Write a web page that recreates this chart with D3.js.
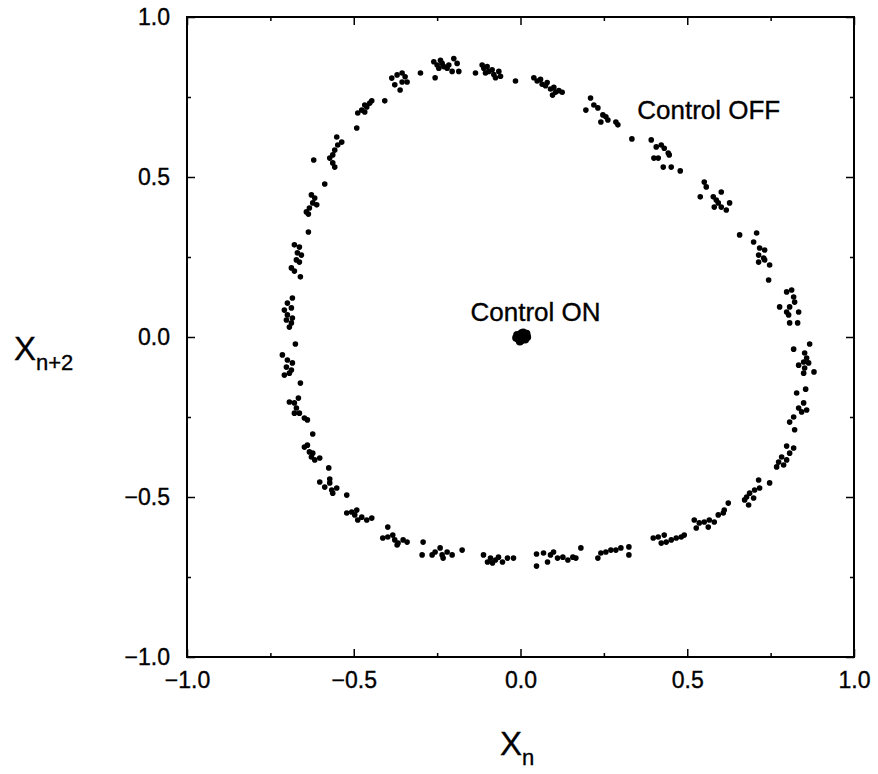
<!DOCTYPE html>
<html>
<head>
<meta charset="utf-8">
<script src="https://cdn.jsdelivr.net/npm/d3@7"></script>
<style>
  body { margin: 0; background: #fff; }
  text { font-family: "Liberation Sans", Arial, Helvetica, sans-serif; fill: #000; stroke: #000; stroke-width: 0.35px; }
</style>
</head>
<body>
<svg width="878" height="774"></svg>
<script>
// return map x(n) -> x(n+2), control off (ring) and control on (fixed point)
var controlOff = [
  [-0.386,0.809],[-0.37,0.819],[-0.355,0.825],[-0.346,0.813],[-0.34,0.797],[-0.355,0.797],[-0.377,0.788],[-0.361,0.772],
  [-0.30,0.825],
  [-0.26,0.86],[-0.25,0.85],[-0.245,0.84],[-0.235,0.855],[-0.23,0.845],[-0.22,0.84],[-0.215,0.85],[-0.205,0.83],[-0.19,0.855],[-0.185,0.83],[-0.24,0.865],[-0.256,0.81],[-0.20,0.87],
  [-0.135,0.825],
  [-0.115,0.85],[-0.11,0.84],[-0.1,0.845],[-0.095,0.83],[-0.085,0.835],[-0.08,0.82],[-0.075,0.81],[-0.065,0.83],[-0.06,0.815],[-0.105,0.825],
  [-0.015,0.80],
  [0.04,0.81],[0.05,0.80],[0.06,0.805],[0.065,0.79],[0.075,0.785],[0.08,0.795],[0.09,0.775],[0.10,0.78],[0.105,0.765],[0.115,0.77],[0.125,0.765],[0.096,0.756],
  [0.196,0.709],[0.21,0.747],[0.232,0.716],[0.247,0.694],[0.262,0.678],[0.241,0.672],[0.286,0.672],[0.292,0.663],[0.22,0.725],[0.256,0.688],
  [0.334,0.619],
  [0.392,0.616],[0.407,0.594],[0.422,0.60],[0.431,0.59],[0.443,0.575],[0.413,0.559],[0.40,0.559],[0.428,0.531],[0.452,0.531],[0.479,0.519],[0.446,0.569],
  [0.551,0.484],[0.557,0.469],[0.539,0.438],[0.578,0.438],[0.587,0.428],[0.602,0.453],[0.581,0.406],[0.602,0.406],[0.617,0.397],[0.627,0.419],[0.593,0.419],
  [0.657,0.319],[0.708,0.325],[0.699,0.297],[0.717,0.278],[0.732,0.272],[0.714,0.256],[0.729,0.247],[0.714,0.234],[0.732,0.241],[0.747,0.225],[0.744,0.178],
  [0.798,0.141],[0.813,0.147],[0.819,0.125],[0.822,0.109],[0.807,0.094],[0.777,0.094],[0.798,0.078],[0.834,0.078],[0.804,0.069],[0.807,0.044],[0.831,0.044],
  [0.819,-0.038],[0.867,-0.022],[0.852,-0.05],[0.858,-0.066],[0.849,-0.078],[0.864,-0.081],[0.834,-0.088],[0.852,-0.097],[0.88,-0.109],[0.849,-0.113],
  [0.828,-0.175],[0.855,-0.163],[0.849,-0.206],[0.858,-0.228],[0.843,-0.234],[0.834,-0.222],[0.819,-0.25],[0.807,-0.266],[0.822,-0.29],
  [0.798,-0.341],[0.819,-0.347],[0.807,-0.363],[0.783,-0.375],[0.798,-0.384],[0.774,-0.391],[0.768,-0.406],[0.789,-0.4],
  [0.747,-0.456],[0.714,-0.447],[0.702,-0.478],[0.687,-0.488],[0.678,-0.5],[0.672,-0.509],[0.684,-0.525],[0.699,-0.503],[0.717,-0.472],
  [0.521,-0.572],[0.536,-0.581],[0.551,-0.578],[0.566,-0.572],[0.581,-0.578],[0.593,-0.556],[0.608,-0.55],[0.623,-0.519],[0.611,-0.541],[0.563,-0.594],[0.527,-0.597],
  [0.398,-0.628],[0.413,-0.625],[0.422,-0.644],[0.437,-0.641],[0.452,-0.634],[0.467,-0.628],[0.482,-0.625],[0.491,-0.619],[0.431,-0.619],
  [0.232,-0.691],[0.241,-0.675],[0.256,-0.672],[0.271,-0.666],[0.286,-0.666],[0.301,-0.659],[0.325,-0.656],[0.325,-0.681],
  [0.181,-0.659],
  [0.069,-0.675],[0.09,-0.681],[0.111,-0.691],[0.127,-0.688],[0.142,-0.697],[0.157,-0.688],[0.166,-0.691],[0.099,-0.672],[0.081,-0.703],[0.048,-0.678],[0.048,-0.716],
  [-0.111,-0.681],[-0.099,-0.703],[-0.084,-0.706],[-0.075,-0.697],[-0.066,-0.688],[-0.054,-0.703],[-0.039,-0.691],[-0.021,-0.691],[-0.09,-0.691],
  [-0.175,-0.666],
  [-0.265,-0.681],[-0.256,-0.672],[-0.241,-0.659],[-0.235,-0.681],[-0.232,-0.691],[-0.22,-0.672],[-0.205,-0.681],[-0.295,-0.681],[-0.292,-0.641],
  [-0.413,-0.628],[-0.398,-0.625],[-0.383,-0.619],[-0.377,-0.634],[-0.367,-0.644],[-0.352,-0.634],[-0.34,-0.641],[-0.37,-0.65],[-0.398,-0.594],
  [-0.521,-0.55],[-0.506,-0.547],[-0.497,-0.556],[-0.488,-0.572],[-0.476,-0.563],[-0.461,-0.572],[-0.446,-0.566],[-0.491,-0.541],[-0.521,-0.494],
  [-0.602,-0.453],[-0.587,-0.469],[-0.572,-0.456],[-0.566,-0.478],[-0.551,-0.472],[-0.563,-0.488],[-0.572,-0.444],[-0.575,-0.409],
  [-0.648,-0.344],[-0.639,-0.338],[-0.633,-0.359],[-0.627,-0.375],[-0.617,-0.384],[-0.602,-0.378],[-0.623,-0.363],[-0.623,-0.303],
  [-0.693,-0.203],[-0.678,-0.206],[-0.666,-0.191],[-0.672,-0.222],[-0.663,-0.238],[-0.648,-0.253],[-0.639,-0.259],[-0.678,-0.238],[-0.66,-0.144],
  [-0.714,-0.056],[-0.699,-0.072],[-0.684,-0.081],[-0.702,-0.094],[-0.687,-0.103],[-0.708,-0.119],[-0.693,-0.113],[-0.675,-0.022],
  [-0.684,0.122],[-0.699,0.106],[-0.687,0.091],[-0.708,0.084],[-0.699,0.069],[-0.702,0.053],[-0.687,0.044],[-0.693,0.031],[-0.684,0.059],
  [-0.678,0.288],[-0.663,0.281],[-0.669,0.263],[-0.657,0.256],[-0.672,0.241],[-0.663,0.234],[-0.687,0.216],[-0.678,0.206],[-0.66,0.188],[-0.636,0.328],
  [-0.627,0.444],[-0.617,0.434],[-0.623,0.419],[-0.611,0.413],[-0.633,0.403],[-0.642,0.391],[-0.636,0.384],[-0.587,0.478],
  [-0.551,0.625],[-0.536,0.609],[-0.548,0.6],[-0.557,0.584],[-0.563,0.569],[-0.572,0.559],[-0.563,0.544],[-0.557,0.531],[-0.62,0.553],
  [-0.488,0.7],[-0.476,0.709],[-0.467,0.703],[-0.461,0.719],[-0.452,0.731],[-0.467,0.725],[-0.446,0.738],[-0.491,0.653],[-0.407,0.738]
];

var controlOn = [
  [0.003,0.0],[0.012,0.006],[-0.006,-0.006],[0.008,0.014],[-0.002,-0.014],[0.018,0.01],[-0.01,0.006],[0.014,-0.008],
  [0.003,0.012],[0.001,-0.011],[0.02,0.0],[-0.013,-0.002]
];

var majorTicks = [-1, -0.5, 0, 0.5, 1];
var minorTicks = [-0.75, -0.25, 0.25, 0.75];
var tickLabels = ['\u22121.0', '\u22120.5', '0.0', '0.5', '1.0'];

var svg = d3.select('svg'),
  margin = { top: 17, right: 24, bottom: 117, left: 187 },
  width = +svg.attr('width') - margin.left - margin.right,
  height = +svg.attr('height') - margin.top - margin.bottom;

var g = svg.append('g').attr('transform', 'translate(' + margin.left + ',' + margin.top + ')');

var x = d3.scaleLinear().domain([-1, 1]).range([0, width]);
var y = d3.scaleLinear().domain([-1, 1]).range([height, 0]);

var fmt = function (d) { return tickLabels[majorTicks.indexOf(d)]; };

function styleAxis(sel) {
  sel.select('.domain').remove();
  sel.selectAll('line').attr('stroke', '#000').attr('stroke-width', 1.5);
  sel.selectAll('text').style('font-size', '23px').attr('fill', '#000');
}

// bottom + left with labels, top + right without
g.append('g').attr('transform', 'translate(0,' + height + ')')
  .call(d3.axisBottom(x).tickValues(majorTicks).tickSize(-8).tickPadding(15).tickFormat(fmt)).call(styleAxis);
g.append('g').attr('transform', 'translate(0,' + height + ')')
  .call(d3.axisBottom(x).tickValues(minorTicks).tickSize(-4).tickFormat('')).call(styleAxis);
g.append('g')
  .call(d3.axisLeft(y).tickValues(majorTicks).tickSize(-8).tickPadding(17).tickFormat(fmt)).call(styleAxis);
g.append('g')
  .call(d3.axisLeft(y).tickValues(minorTicks).tickSize(-4).tickFormat('')).call(styleAxis);
g.append('g')
  .call(d3.axisTop(x).tickValues(majorTicks).tickSize(-8).tickFormat('')).call(styleAxis);
g.append('g')
  .call(d3.axisTop(x).tickValues(minorTicks).tickSize(-4).tickFormat('')).call(styleAxis);
g.append('g').attr('transform', 'translate(' + width + ',0)')
  .call(d3.axisRight(y).tickValues(majorTicks).tickSize(-8).tickFormat('')).call(styleAxis);
g.append('g').attr('transform', 'translate(' + width + ',0)')
  .call(d3.axisRight(y).tickValues(minorTicks).tickSize(-4).tickFormat('')).call(styleAxis);

g.append('rect')
  .attr('width', width)
  .attr('height', height)
  .attr('fill', 'none')
  .attr('stroke', '#000')
  .attr('stroke-width', 2);

g.append('g')
  .selectAll('circle')
  .data(controlOff)
  .enter()
  .append('circle')
  .attr('cx', function (d) { return x(d[0]); })
  .attr('cy', function (d) { return y(d[1]); })
  .attr('r', 2.8)
  .attr('fill', '#000');

g.append('g')
  .selectAll('circle')
  .data(controlOn)
  .enter()
  .append('circle')
  .attr('cx', function (d) { return x(d[0]); })
  .attr('cy', function (d) { return y(d[1]); })
  .attr('r', 4)
  .attr('fill', '#000');

// annotations
g.append('text').attr('x', x(0.35)).attr('y', y(0.68)).style('font-size', '26px').text('Control OFF');
g.append('text').attr('x', x(-0.15)).attr('y', y(0.05)).style('font-size', '26px').text('Control ON');

// axis titles
var xt = svg.append('text').attr('x', 500).attr('y', 755).style('font-size', '33px');
xt.append('tspan').text('X');
xt.append('tspan').attr('dy', 10).style('font-size', '22px').text('n');

var yt = svg.append('text').attr('x', 14).attr('y', 360).style('font-size', '33px');
yt.append('tspan').text('X');
yt.append('tspan').attr('dy', 10).style('font-size', '22px').text('n+2');
</script>
</body>
</html>
